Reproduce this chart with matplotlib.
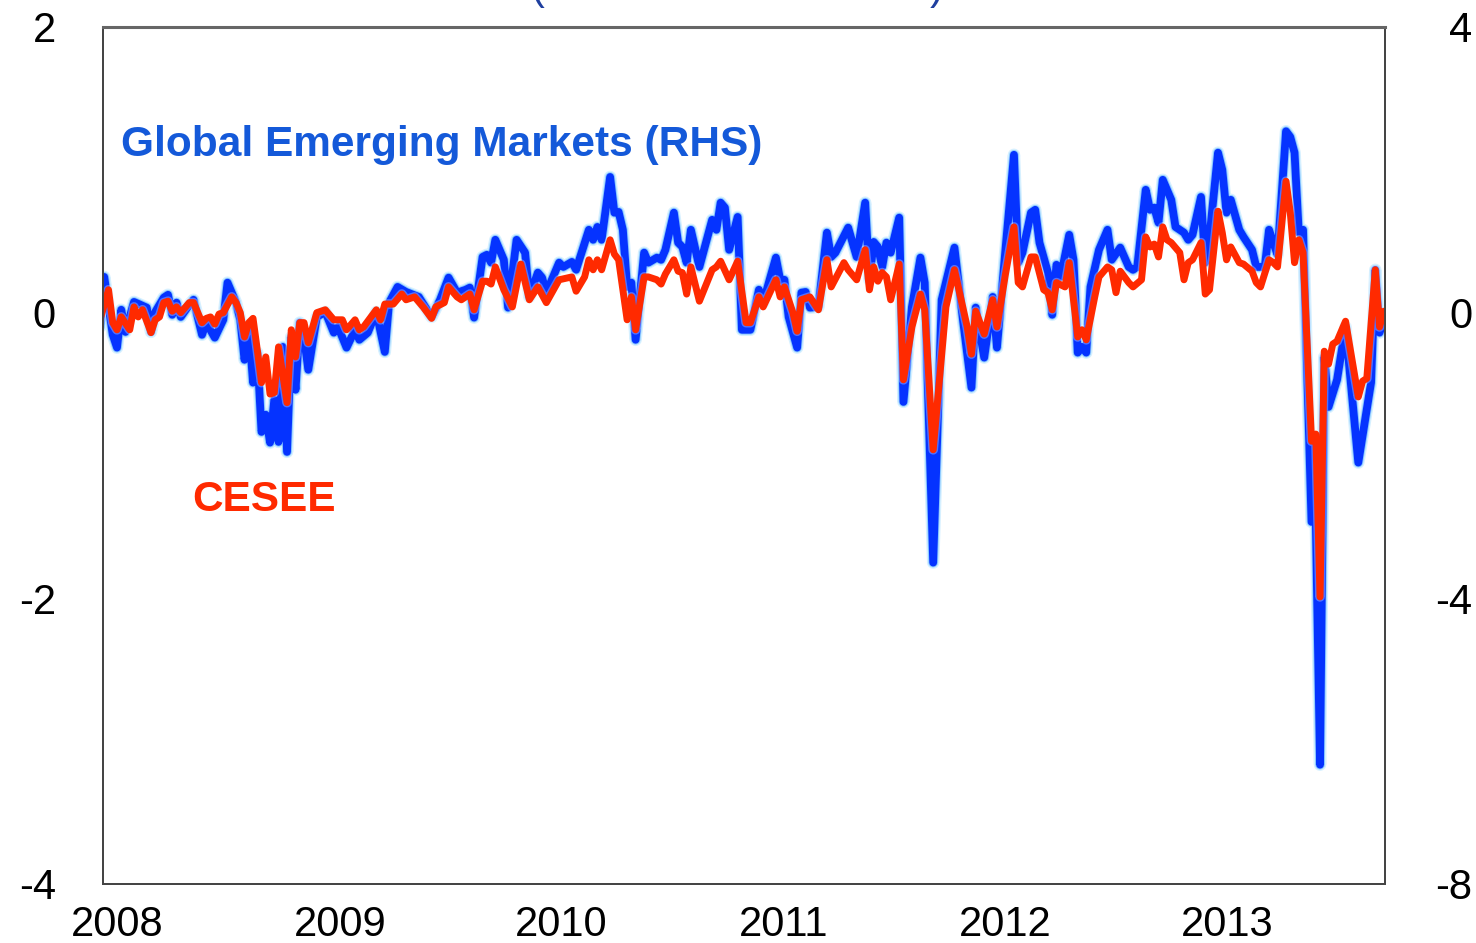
"""Weekly flows chart: CESEE (LHS) vs Global Emerging Markets (RHS)."""

import matplotlib

matplotlib.use("Agg")

import matplotlib.pyplot as plt
import numpy as np
import pandas as pd

START = pd.Timestamp("2007-12-03")

# (week since START, value)
blue_obs = [
    (0, -0.20), (1, 0.50), (3, -0.31), (4, -0.49), (5, 0.04), (6, -0.27), (8, 0.15),
    (11, 0.07), (12, -0.27), (13, 0.01), (15, 0.21), (16, 0.25), (17, -0.03), (18, 0.14),
    (19, -0.06), (21, 0.11), (22, 0.18), (24, -0.31), (25, -0.14), (27, -0.35), (29, -0.10),
    (30, 0.42), (32, 0.14), (33, -0.10), (34, -0.66), (35, -0.20), (36, -0.98), (37, -0.56),
    (38, -1.67), (39, -1.43), (40, -1.82), (41, -1.22), (42, -1.81), (43, -0.48), (44, -1.95),
    (45, -0.34), (46, -1.08), (47, -0.14), (48, -0.35), (49, -0.80), (51, -0.06), (53, 0.01),
    (55, -0.28), (56, -0.20), (58, -0.49), (60, -0.24), (61, -0.38), (63, -0.28), (65, 0.01),
    (67, -0.55), (68, 0.14), (70, 0.36), (72, 0.29), (75, 0.22), (78, -0.06), (80, 0.18),
    (82, 0.49), (84, 0.28), (86, 0.32), (87, 0.35), (88, -0.07), (90, 0.78), (91, 0.81),
    (92, 0.70), (93, 1.02), (95, 0.74), (96, 0.07), (98, 1.02), (100, 0.84), (101, 0.22),
    (103, 0.56), (104, 0.49), (105, 0.28), (108, 0.70), (109, 0.64), (111, 0.71), (112, 0.60),
    (115, 1.16), (116, 1.02), (117, 1.20), (118, 1.02), (120, 1.90), (121, 1.40), (122, 1.41),
    (123, 1.16), (124, 0.36), (125, 0.42), (126, -0.38), (128, 0.84), (129, 0.70), (131, 0.77),
    (132, 0.74), (133, 0.88), (135, 1.40), (136, 0.98), (137, 0.92), (138, 0.70), (139, 1.16),
    (141, 0.64), (144, 1.30), (145, 1.16), (146, 1.54), (147, 1.47), (148, 0.88), (150, 1.34),
    (151, -0.24), (153, -0.24), (155, 0.32), (156, 0.14), (159, 0.77), (160, 0.46), (161, 0.46),
    (162, -0.06), (164, -0.49), (165, 0.28), (166, 0.29), (167, 0.07), (169, 0.08), (171, 1.12),
    (172, 0.78), (173, 0.84), (176, 1.19), (178, 0.78), (180, 1.54), (181, 0.46), (182, 0.99),
    (183, 0.92), (184, 0.64), (185, 0.98), (186, 0.84), (188, 1.33), (189, -1.25), (191, 0.08),
    (193, 0.77), (194, 0.42), (196, -3.50), (198, 0.18), (201, 0.91), (203, -0.10), (205, -1.05),
    (206, 0.07), (208, -0.63), (210, 0.22), (211, -0.49), (213, 0.88), (215, 2.21), (216, 0.70),
    (217, 0.84), (219, 1.40), (220, 1.44), (221, 0.98), (223, 0.56), (224, -0.03), (225, 0.67),
    (226, 0.50), (228, 1.09), (229, 0.74), (230, -0.56), (231, -0.48), (232, -0.56), (233, 0.36),
    (235, 0.88), (237, 1.16), (238, 0.74), (240, 0.91), (242, 0.64), (243, 0.60), (244, 0.64),
    (246, 1.72), (247, 1.44), (248, 1.47), (249, 1.26), (250, 1.86), (252, 1.58), (253, 1.20),
    (255, 1.12), (256, 1.02), (257, 1.09), (259, 1.62), (260, 0.70), (261, 1.06), (263, 2.24),
    (264, 2.00), (265, 1.40), (266, 1.58), (268, 1.16), (269, 1.06), (271, 0.88), (272, 0.64),
    (274, 0.64), (275, 1.16), (276, 0.98), (277, 0.81), (279, 2.54), (280, 2.46), (281, 2.24),
    (282, 1.12), (283, 1.16), (285, -2.93), (286, -2.90), (287, -6.33), (288, -0.62),
    (289, -1.32), (291, -0.94), (293, -0.20), (296, -2.10), (299, -0.98), (300, 0.60),
    (301, -0.28), (302, 0.00),
]

red_obs = [
    (0, -0.05), (2, 0.16), (3, -0.07), (4, -0.12), (5, -0.03), (7, -0.12), (8, 0.04), (9, -0.03),
    (10, 0.02), (12, -0.14), (13, -0.05), (14, -0.03), (15, 0.07), (16, 0.08), (17, 0.01),
    (18, 0.04), (19, 0.00), (21, 0.07), (22, 0.07), (24, -0.07), (25, -0.04), (26, -0.03),
    (27, -0.08), (28, -0.01), (29, 0.00), (31, 0.11), (32, 0.07), (33, 0.00), (34, -0.17),
    (35, -0.07), (36, -0.04), (37, -0.26), (38, -0.49), (39, -0.31), (40, -0.57), (41, -0.56),
    (42, -0.24), (44, -0.63), (45, -0.12), (46, -0.31), (47, -0.07), (48, -0.07), (49, -0.21),
    (51, 0.00), (53, 0.02), (55, -0.05), (57, -0.05), (58, -0.12), (60, -0.05), (61, -0.12),
    (62, -0.10), (65, 0.02), (66, -0.05), (67, 0.06), (69, 0.06), (71, 0.13), (72, 0.09),
    (74, 0.11), (76, 0.04), (78, -0.04), (79, 0.04), (81, 0.07), (82, 0.18), (84, 0.11),
    (85, 0.09), (87, 0.13), (88, 0.02), (90, 0.22), (91, 0.22), (92, 0.20), (93, 0.32),
    (95, 0.16), (97, 0.04), (99, 0.34), (101, 0.09), (103, 0.18), (105, 0.07), (108, 0.23),
    (111, 0.25), (112, 0.15), (114, 0.25), (115, 0.37), (116, 0.30), (117, 0.37), (118, 0.30),
    (120, 0.51), (121, 0.41), (122, 0.37), (124, -0.05), (125, 0.11), (126, -0.12), (128, 0.25),
    (129, 0.25), (131, 0.23), (132, 0.20), (133, 0.27), (135, 0.37), (136, 0.29), (137, 0.28),
    (138, 0.13), (139, 0.32), (141, 0.08), (144, 0.30), (145, 0.32), (146, 0.36), (148, 0.23),
    (150, 0.36), (152, -0.07), (153, -0.07), (155, 0.11), (156, 0.04), (159, 0.23), (160, 0.11),
    (161, 0.18), (163, 0.00), (164, -0.13), (165, 0.09), (167, 0.11), (169, 0.02), (171, 0.37),
    (172, 0.18), (175, 0.35), (176, 0.30), (178, 0.23), (180, 0.44), (181, 0.16), (182, 0.32),
    (183, 0.22), (184, 0.28), (185, 0.25), (186, 0.09), (188, 0.34), (189, -0.47), (191, -0.10),
    (193, 0.13), (194, 0.02), (196, -0.96), (199, 0.04), (201, 0.30), (204, -0.10), (205, -0.29),
    (206, 0.01), (208, -0.15), (210, 0.09), (211, -0.10), (213, 0.27), (215, 0.60), (216, 0.21),
    (217, 0.18), (219, 0.39), (220, 0.39), (222, 0.16), (223, 0.14), (224, 0.02), (225, 0.21),
    (227, 0.18), (228, 0.35), (230, -0.17), (231, -0.12), (232, -0.19), (234, 0.11), (235, 0.25),
    (237, 0.32), (238, 0.30), (239, 0.14), (240, 0.29), (242, 0.21), (243, 0.18), (245, 0.23),
    (246, 0.53), (247, 0.46), (248, 0.48), (249, 0.39), (250, 0.60), (251, 0.51), (252, 0.49),
    (254, 0.42), (255, 0.23), (256, 0.35), (257, 0.37), (259, 0.49), (260, 0.13), (261, 0.16),
    (263, 0.71), (264, 0.56), (265, 0.37), (266, 0.46), (268, 0.35), (269, 0.34), (271, 0.29),
    (272, 0.21), (273, 0.18), (275, 0.37), (276, 0.35), (277, 0.32), (279, 0.92), (280, 0.70),
    (281, 0.35), (282, 0.51), (283, 0.42), (285, -0.90), (286, -0.85), (287, -1.99), (288, -0.27),
    (289, -0.36), (290, -0.22), (291, -0.20), (293, -0.06), (296, -0.59), (297, -0.48),
    (298, -0.46), (300, 0.30), (301, -0.10), (302, 0.01),
]

years = [2008, 2009, 2010, 2011, 2012, 2013]
left_ticks = [-4, -2, 0, 2]
right_ticks = [-8, -4, 0, 4]

BLUE = "#0533ff"
RED = "#ff2a00"


def to_dates(weeks):
    return START + pd.to_timedelta(np.asarray(weeks) * 7, unit="D")


bw, bv = zip(*blue_obs)
rw, rv = zip(*red_obs)

fig = plt.figure(figsize=(14.76, 9.43), dpi=100)
ax = fig.add_axes([0.0698, 0.0626, 0.8686, 0.9088])
ax2 = ax.twinx()
ax2.set_zorder(ax.get_zorder() - 1)
ax.patch.set_visible(False)

# blue series on the right axis, with a soft glow
bd = to_dates(bw)
ax2.plot(bd, bv, color="#d6f0ff", lw=9, solid_joinstyle="round", solid_capstyle="round")
ax2.plot(bd, bv, color="#8ccaff", lw=7, solid_joinstyle="round", solid_capstyle="round")
ax2.plot(bd, bv, color=BLUE, lw=5.6, solid_joinstyle="round", solid_capstyle="round")

rd = to_dates(rw)
ax.plot(rd, rv, color="#ffffff", lw=7, alpha=0.3, solid_joinstyle="round")
ax.plot(rd, rv, color=RED, lw=5.0, solid_joinstyle="round", solid_capstyle="round")

x0 = START + pd.Timedelta(days=5)
x1 = START + pd.Timedelta(days=7 * 302.3)
ax.set_xlim(x0, x1)
ax.set_ylim(-4, 2)
ax2.set_ylim(-8, 4)

ax.set_xticks([pd.Timestamp(f"{y}-01-01") for y in years])
ax.set_xticklabels([str(y) for y in years])
ax.set_yticks(left_ticks)
ax.set_yticklabels([str(t) for t in left_ticks])
ax2.set_yticks(right_ticks)
ax2.set_yticklabels([str(t) for t in right_ticks])

font = "Liberation Sans"
ax.tick_params(axis="x", length=0, pad=15, labelsize=30, labelfontfamily=font)
ax.tick_params(axis="y", length=0, pad=34, labelsize=30, labelfontfamily=font)
ax2.tick_params(axis="y", length=0, pad=63, labelsize=30, labelfontfamily=font)
for lab in ax2.get_yticklabels():
    lab.set_horizontalalignment("right")

for a in (ax, ax2):
    for s in a.spines.values():
        s.set_color("#444444")
        s.set_linewidth(1.3)
ax.spines["top"].set_color("#666666")
ax.spines["top"].set_linewidth(2.2)

ax.text(0.014, 0.849, "Global Emerging Markets (RHS)", transform=ax.transAxes,
        color="#1459d9", fontsize=30.5, fontweight="bold", family=font, va="baseline")
ax.text(0.0694, 0.435, "CESEE", transform=ax.transAxes,
        color=RED, fontsize=30.5, fontweight="bold", family=font, va="baseline")

# header cut off by the top edge; only the brackets show
fig.text(537 / 1476, 1.001, "(", color="#1f3f9f", fontsize=30, family=font,
         ha="center", va="baseline")
fig.text(937 / 1476, 1.001, ")", color="#1f3f9f", fontsize=30, family=font,
         ha="center", va="baseline")

fig.savefig("out.png", dpi=100)
